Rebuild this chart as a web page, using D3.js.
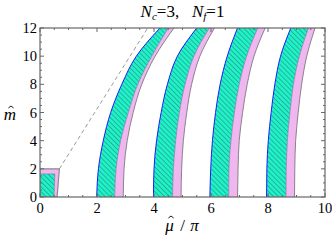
<!DOCTYPE html>
<html>
<head>
<meta charset="utf-8">
<script src="https://cdn.jsdelivr.net/npm/d3@7"></script>
<style>
  body { margin: 0; background: #fff; }
  text { font-family: "Liberation Serif", "DejaVu Serif", serif; }
</style>
</head>
<body>
<div id="chart"></div>
<script>
// m-hat levels at which the band edges were read
const mLevels = [0, 2, 4, 6, 8, 10, 12];
// mu-hat/pi of the left edge of each teal band
const tealLeft = [
  [1.99, 2.05, 2.22, 2.48, 2.87, 3.38, 4.21],
  [3.98, 4.00, 4.09, 4.25, 4.47, 4.82, 5.50],
  [5.96, 5.99, 6.05, 6.16, 6.32, 6.57, 6.93],
  [7.95, 7.96, 8.01, 8.11, 8.24, 8.44, 8.80]
];
// teal / pink boundary
const tealRight = [
  [2.62, 2.67, 2.83, 3.10, 3.43, 3.92, 4.50],
  [4.65, 4.68, 4.76, 4.89, 5.09, 5.40, 5.94],
  [6.62, 6.63, 6.70, 6.82, 6.99, 7.25, 7.64],
  [8.63, 8.64, 8.68, 8.77, 8.89, 9.10, 9.42]
];
// right edge of each pink band
const pinkRight = [
  [2.92, 2.95, 3.06, 3.27, 3.57, 4.04, 4.70],
  [4.95, 4.97, 5.03, 5.15, 5.32, 5.61, 6.12],
  [6.93, 6.95, 6.99, 7.11, 7.27, 7.51, 7.90],
  [8.93, 8.94, 8.97, 9.06, 9.18, 9.36, 9.65]
];
// little box at the origin: teal core and pink rim (corners, mu/pi and m)
const boxTeal = [[0, 0], [0.49, 0], [0.52, 1.64], [0, 1.64]];
const boxPink = [[0, 0], [0.60, 0], [0.68, 2.0], [0, 2.0]];
// dashed line
const dashLine = [[0.68, 2.0], [3.78, 12]];

const xTicks = [0, 2, 4, 6, 8, 10];
const yTicks = [0, 2, 4, 6, 8, 10, 12];

const W = 332, H = 241;
const margin = {top: 28, right: 7, bottom: 44, left: 40};
const iw = W - margin.left - margin.right,
      ih = H - margin.top - margin.bottom;

const x = d3.scaleLinear().domain([0, 10]).range([0, iw]);
const y = d3.scaleLinear().domain([0, 12]).range([ih, 0]);

const svg = d3.select('#chart').append('svg')
  .attr('width', W).attr('height', H);

const defs = svg.append('defs');
defs.append('clipPath').attr('id', 'clip')
  .append('rect').attr('width', iw).attr('height', ih);

const hs = 3.5;
const pat = defs.append('pattern')
  .attr('id', 'hatch')
  .attr('patternUnits', 'userSpaceOnUse')
  .attr('width', hs).attr('height', hs)
  .attr('patternTransform', 'rotate(-45)');
pat.append('rect').attr('width', hs).attr('height', hs).attr('fill', '#1ff2c8');
pat.append('line').attr('x1', 0).attr('y1', 0).attr('x2', 0).attr('y2', hs)
  .attr('stroke', '#2a5e52').attr('stroke-width', 0.8);

const g = svg.append('g').attr('transform', `translate(${margin.left},${margin.top})`);
const plot = g.append('g').attr('clip-path', 'url(#clip)');

const area = (lo, hi) => d3.area()
  .curve(d3.curveMonotoneY)
  .y((d, i) => y(mLevels[i]))
  .x0((d, i) => x(lo[i]))
  .x1((d, i) => x(hi[i]));
const edge = arr => d3.line()
  .curve(d3.curveMonotoneY)
  .y((d, i) => y(mLevels[i]))
  .x((d, i) => x(arr[i]));

// box at origin
const poly = d3.line().x(d => x(d[0])).y(d => y(d[1]));
plot.append('path').attr('d', poly(boxPink) + 'Z')
  .attr('fill', '#efb6f0').attr('stroke', '#8a8a8a').attr('stroke-width', 1.2);
plot.append('path').attr('d', poly(boxTeal) + 'Z')
  .attr('fill', 'url(#hatch)').attr('stroke', '#7a7a9a').attr('stroke-width', 0.6);

plot.append('path').attr('d', poly(dashLine))
  .attr('fill', 'none').attr('stroke', '#9a9a9a').attr('stroke-width', 1)
  .attr('stroke-dasharray', '4,3');

tealLeft.forEach((lo, k) => {
  const mid = tealRight[k], hi = pinkRight[k];
  plot.append('path').attr('d', area(mid, hi)(mLevels))
    .attr('fill', '#efb6f0');
  plot.append('path').attr('d', area(lo, mid)(mLevels))
    .attr('fill', 'url(#hatch)');
  plot.append('path').attr('d', edge(lo)(mLevels))
    .attr('fill', 'none').attr('stroke', '#1a1aff').attr('stroke-width', 1);
  plot.append('path').attr('d', edge(mid)(mLevels))
    .attr('fill', 'none').attr('stroke', '#8a6a9a').attr('stroke-width', 0.6);
  plot.append('path').attr('d', edge(hi)(mLevels))
    .attr('fill', 'none').attr('stroke', '#7a7a7a').attr('stroke-width', 0.9);
});

// frame and inward ticks
const frameCol = '#666';
const xMinor = d3.range(0, 10.01, 0.5);
const yMinor = d3.range(0, 12.01, 0.5);
const tk = g.append('g').attr('stroke', frameCol);
xMinor.forEach(v => {
  const len = xTicks.includes(v) ? 4 : 2;
  tk.append('line').attr('x1', x(v)).attr('x2', x(v)).attr('y1', ih).attr('y2', ih - len);
  tk.append('line').attr('x1', x(v)).attr('x2', x(v)).attr('y1', 0).attr('y2', len);
});
yMinor.forEach(v => {
  const len = yTicks.includes(v) ? 4 : 2;
  tk.append('line').attr('y1', y(v)).attr('y2', y(v)).attr('x1', 0).attr('x2', len);
  tk.append('line').attr('y1', y(v)).attr('y2', y(v)).attr('x1', iw).attr('x2', iw - len);
});
g.append('rect').attr('width', iw).attr('height', ih)
  .attr('fill', 'none').attr('stroke', frameCol).attr('stroke-width', 1.2);

g.selectAll('text.xt').data(xTicks).enter().append('text')
  .attr('class', 'xt')
  .attr('x', d => x(d)).attr('y', ih + 16)
  .attr('text-anchor', 'middle').attr('font-size', 14.5)
  .text(d => d);
g.selectAll('text.yt').data(yTicks).enter().append('text')
  .attr('class', 'yt')
  .attr('x', -3).attr('y', d => y(d) + 5)
  .attr('text-anchor', 'end').attr('font-size', 14.5)
  .text(d => d);

// title
const title = svg.append('text')
  .attr('x', margin.left + iw / 2).attr('y', 17)
  .attr('text-anchor', 'middle').attr('font-size', 17);
title.append('tspan').attr('font-style', 'italic').text('N');
title.append('tspan').attr('font-style', 'italic').attr('font-size', 11).attr('dy', 3).text('c');
title.append('tspan').attr('dy', -3).text('=3,\u2002 ');
title.append('tspan').attr('font-style', 'italic').text('N');
title.append('tspan').attr('font-style', 'italic').attr('font-size', 11).attr('dy', 3).text('f');
title.append('tspan').attr('dy', -3).text('=1');

// axis labels; the hats are small drawn chevrons
const hat = (hx, hy) => svg.append('path')
  .attr('d', `M${hx - 2.6},${hy + 2} L${hx},${hy} L${hx + 2.6},${hy + 2}`)
  .attr('fill', 'none').attr('stroke', '#000').attr('stroke-width', 0.9);

svg.append('text')
  .attr('x', 10).attr('y', 120)
  .attr('text-anchor', 'middle').attr('font-size', 17).attr('font-style', 'italic')
  .text('m');
hat(11, 106);

const cx = margin.left + iw / 2;
svg.append('text')
  .attr('x', cx - 13).attr('y', 231)
  .attr('text-anchor', 'middle').attr('font-size', 17).attr('font-style', 'italic')
  .text('\u03bc');
hat(cx - 11.5, 216);
svg.append('text')
  .attr('x', cx).attr('y', 231)
  .attr('text-anchor', 'middle').attr('font-size', 17)
  .text('/');
svg.append('text')
  .attr('x', cx + 12).attr('y', 231)
  .attr('text-anchor', 'middle').attr('font-size', 17).attr('font-style', 'italic')
  .text('\u03c0');
</script>
</body>
</html>
